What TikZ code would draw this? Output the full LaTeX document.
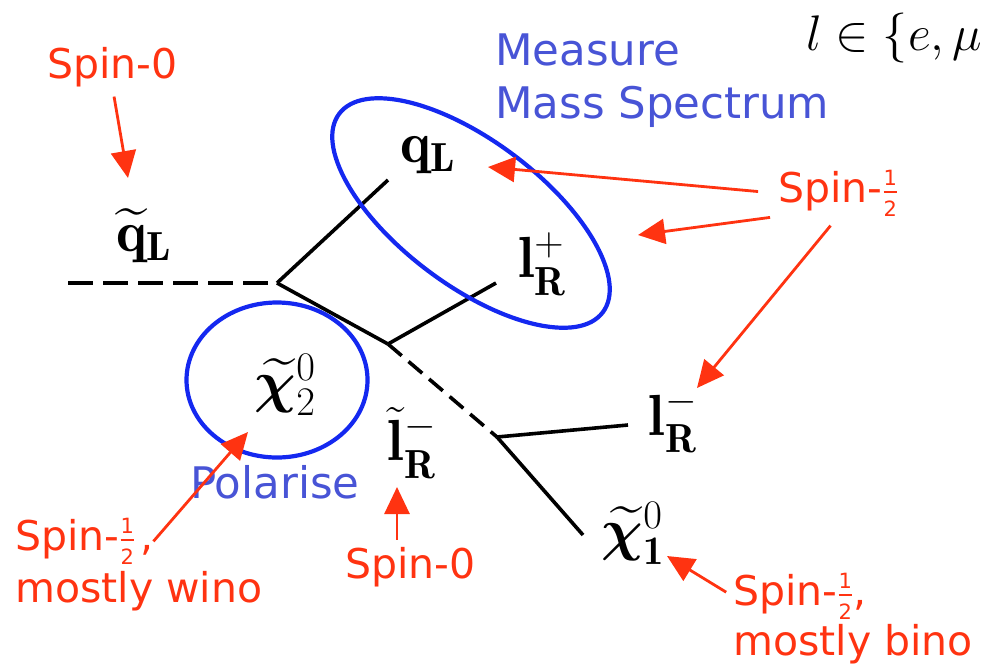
\RequirePackage{fix-cm}
\documentclass[tikz,border=0pt]{standalone}
\usepackage{amsmath,amssymb}
\usepackage{fontspec}
\usepackage{bm}
\newfontfamily\comicfont{DejaVu Sans}
\usepackage{tikz}
\usetikzlibrary{arrows.meta, shapes.geometric, positioning}

\definecolor{spinred}{RGB}{255,51,17}
\definecolor{noteblue}{RGB}{72,84,214}
\definecolor{ringblue}{RGB}{20,40,240}

% small stacked one-half, as in the spin labels
\newcommand{\halfsp}{$\frac{\text{\fontsize{21}{21}\selectfont 1}}{\text{\fontsize{21}{21}\selectfont 2}}$}

\begin{document}
\begin{tikzpicture}[x=1pt, y=-1pt,
    spin/.style={text=spinred, font=\comicfont\fontsize{41}{49}\selectfont, inner sep=0pt, anchor=base west},
    note/.style={text=noteblue, font=\comicfont\fontsize{43.5}{52}\selectfont, inner sep=0pt, anchor=base west},
    aim/.style={draw=spinred, line width=2.8pt, -{Triangle[length=27pt, width=25pt]}},
    part/.style={font=\fontsize{58}{62}\selectfont, inner sep=0pt},
    fermion/.style={line width=3.6pt},
    sfermion/.style={line width=3.6pt, dash pattern=on 25pt off 10pt},
    ring/.style={draw=ringblue, ellipse, line width=4.2pt, inner sep=0pt}]

    \useasboundingbox (0,0) rectangle (984,670);

    % ================= Decay chain =================
    \coordinate (start) at (68,283);
    \coordinate (v1) at (277,283);
    \coordinate (v2) at (388,344);
    \coordinate (v3) at (497,437);
    \coordinate (qLend) at (388,180);
    \coordinate (lRpend) at (496,283);
    \coordinate (lRmend) at (628,425);
    \coordinate (chiend) at (583,535);

    \draw[sfermion] (start) -- (v1);
    \draw[fermion] (v1) -- (qLend);
    \draw[fermion] (v1) -- (v2);
    \draw[fermion] (v2) -- (lRpend);
    \draw[sfermion, dash pattern=on 18pt off 9pt] (v2) -- (v3);
    \draw[fermion] (v3) -- (lRmend);
    \draw[fermion] (v3) -- (chiend);

    % ================= Rings =================
    \node[ring, minimum width=330pt, minimum height=144pt, rotate=-37] (massring) at (471,213) {};
    \node[ring, minimum width=181pt, minimum height=155pt] (polring) at (277,380) {};

    % ================= Particles =================
    \node[part] (sqL) at (144,236) {$\widetilde{\mathbf{q}}_{\mathbf{L}}$};
    \node[part] (qL) at (428,155) {$\mathbf{q}_{\mathbf{L}}$};
    \node[part] (lRp) at (542,264) {$\mathbf{l}^{\mathbf{+}}_{\mathbf{R}}$};
    \node[part] (chitwo) at (285,385) {$\widetilde{\bm{\chi}}^{0}_{2}$};
    \node[part] (slR) at (412,443) {$\tilde{\mathbf{l}}^{-}_{\mathbf{R}}$};
    \node[part] (lRm) at (673,421) {$\mathbf{l}^{-}_{\mathbf{R}}$};
    \node[part] (chione) at (633,533) {$\widetilde{\bm{\chi}}^{0}_{\mathbf{1}}$};
    \node[font=\fontsize{50}{54}\selectfont, inner sep=0pt, anchor=base west] (lset) at (806,50) {$l \in \{e, \mu\}$};

    % ================= Blue notes =================
    \node[note] (measA) at (495,65) {Measure};
    \node[note] (measB) at (495,118) {Mass Spectrum};
    \node[note] (polar) at (190,498) {Polarise};

    % ================= Spin labels =================
    \node[spin] (spintl) at (47,78) {Spin-0};
    \node[spin] (spinr) at (778,202) {Spin-\halfsp};
    \node[spin] (winoA) at (15,550) {Spin-\halfsp\hspace{5pt},};
    \node[spin] (winoB) at (15,602) {mostly wino};
    \node[spin] (spinb) at (345,578) {Spin-0};
    \node[spin] (binoA) at (733,605) {Spin-\halfsp,};
    \node[spin] (binoB) at (733,655) {mostly bino};

    % ================= Red arrows =================
    \coordinate (tipsq) at (128,178);
    \coordinate (tipq) at (488,167);
    \coordinate (tipmass) at (638,235);
    \coordinate (tiplm) at (697,388);
    \coordinate (tipwino) at (248,432);
    \coordinate (tipsl) at (397,487);
    \coordinate (tipbino) at (667,556);

    \draw[aim, shorten <=10pt] (spintl.south) -- (tipsq);
    \draw[aim, shorten <=20pt] (spinr.west) -- (tipq);
    \draw[aim, shorten <=8pt] (spinr.south west) -- (tipmass);
    \draw[aim, shorten <=12pt] (spinr.south) -- (tiplm);
    \draw[aim] (winoA.east) -- (tipwino);
    \draw[aim, shorten <=7pt] (tipsl |- spinb.north) -- (tipsl);
    \draw[aim, shorten <=8pt] (binoA.west) -- (tipbino);

\end{tikzpicture}
\end{document}
